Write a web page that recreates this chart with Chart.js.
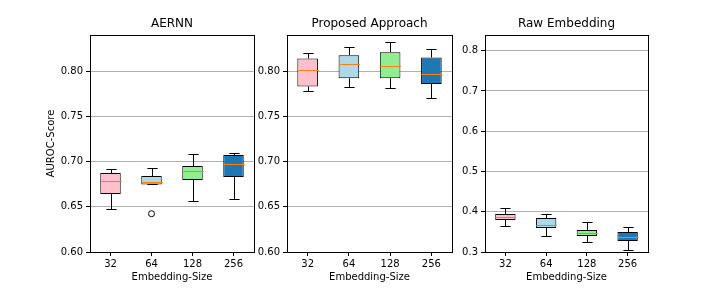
<!DOCTYPE html>
<html>
<head>
<meta charset="utf-8">
<script src="https://cdn.jsdelivr.net/npm/chart.js@4.4.1/dist/chart.umd.min.js"></script>
<style>
  body { margin: 0; background: #fff; }
  #wrap { position: relative; width: 720px; height: 288px; overflow: hidden; }
  canvas { position: absolute; top: 0; }
</style>
</head>
<body>
<div id="wrap">
  <canvas id="c1" width="222" height="288" style="left:40px"></canvas>
  <canvas id="c2" width="218" height="288" style="left:242px"></canvas>
  <canvas id="c3" width="216" height="288" style="left:440px"></canvas>
</div>
<script>
const sizes = ['32', '64', '128', '256'];
const boxColors = ['#ffc0cb', '#add8e6', '#90ee90', '#1f77b4'];

// AERNN
const aernnLow = [0.6476, 0.6749, 0.6565, 0.6587];
const aernnQ1 = [0.6642, 0.6749, 0.6797, 0.6830];
const aernnMed = [0.6786, 0.6775, 0.6897, 0.6974];
const aernnQ3 = [0.6875, 0.6841, 0.6952, 0.7074];
const aernnHigh = [0.6920, 0.6930, 0.7081, 0.7096];
const aernnOutliers = [null, 0.6424, null, null];

// Proposed Approach
const propLow = [0.7782, 0.7827, 0.7815, 0.7705];
const propQ1 = [0.7834, 0.7926, 0.7926, 0.7860];
const propMed = [0.8015, 0.8081, 0.8059, 0.7970];
const propQ3 = [0.8144, 0.8181, 0.8214, 0.8155];
const propHigh = [0.8200, 0.8269, 0.8325, 0.8244];

// Raw Embedding
const rawLow = [0.3646, 0.3389, 0.3248, 0.3050];
const rawQ1 = [0.3795, 0.3596, 0.3397, 0.3273];
const rawMed = [0.3869, 0.3662, 0.3472, 0.3373];
const rawQ3 = [0.3944, 0.3844, 0.3546, 0.3497];
const rawHigh = [0.4084, 0.3944, 0.3745, 0.3621];

const font = 'DejaVu Sans';

// whiskers, caps, medians and the axes frame
const boxParts = {
  id: 'boxParts',
  afterDatasetsDraw(chart, args, opts) {
    const { ctx, chartArea: a, scales: { x, y } } = chart;
    const meta = chart.getDatasetMeta(0);
    const px = v => Math.round(v) + 0.5;
    ctx.save();
    ctx.lineWidth = 1;
    opts.low.forEach((lo, i) => {
      const bar = meta.data[i];
      const half = bar.width / 2;
      const cx = px(x.getPixelForValue(i));
      const yLo = px(y.getPixelForValue(lo));
      const yHi = px(y.getPixelForValue(opts.high[i]));
      const yQ1 = y.getPixelForValue(opts.q1[i]);
      const yQ3 = y.getPixelForValue(opts.q3[i]);
      const yMed = px(y.getPixelForValue(opts.med[i]));
      ctx.strokeStyle = '#000';
      ctx.beginPath();
      ctx.moveTo(cx, yQ1); ctx.lineTo(cx, yLo);
      ctx.moveTo(cx, yQ3); ctx.lineTo(cx, yHi);
      ctx.moveTo(cx - half / 2, yLo); ctx.lineTo(cx + half / 2, yLo);
      ctx.moveTo(cx - half / 2, yHi); ctx.lineTo(cx + half / 2, yHi);
      ctx.stroke();
      ctx.strokeStyle = '#ff7f0e';
      ctx.beginPath();
      ctx.moveTo(cx - half, yMed); ctx.lineTo(cx + half, yMed);
      ctx.stroke();
    });
    ctx.strokeStyle = '#000';
    ctx.strokeRect(px(a.left), px(a.top), Math.round(a.right - a.left), Math.round(a.bottom - a.top));
    ctx.restore();
  }
};

function makeChart(id, title, low, q1, med, q3, high, outliers, yMin, yMax, step, digits, yWidth, yTitle) {
  const datasets = [{
    type: 'bar',
    data: q1.map((v, i) => [v, q3[i]]),
    backgroundColor: boxColors,
    borderColor: '#000',
    borderWidth: 1,
    borderSkipped: false,
    barPercentage: 0.5,
    categoryPercentage: 1.0
  }];
  if (outliers) {
    datasets.push({
      type: 'line',
      data: outliers,
      showLine: false,
      pointRadius: 3,
      pointBackgroundColor: 'rgba(0,0,0,0)',
      pointBorderColor: '#000',
      pointBorderWidth: 1
    });
  }
  return new Chart(document.getElementById(id), {
    type: 'bar',
    data: { labels: sizes, datasets },
    options: {
      responsive: false,
      animation: false,
      layout: { padding: { right: 8 } },
      plugins: {
        legend: { display: false },
        tooltip: { enabled: false },
        title: {
          display: true, text: title, color: '#000', fullSize: false,
          font: { family: font, size: 12, weight: 'normal' },
          padding: { top: 17, bottom: 3.6 }
        },
        boxParts: { low, q1, med, q3, high }
      },
      scales: {
        x: {
          offset: true,
          grid: { display: true, drawOnChartArea: false, offset: false, tickColor: '#000', tickLength: 4 },
          border: { display: false },
          ticks: { color: '#000', font: { family: font, size: 10 }, padding: 2 },
          title: {
            display: true, text: 'Embedding-Size', color: '#000',
            font: { family: font, size: 10 }, padding: { top: 0, bottom: 5 }
          },
          afterFit: s => { s.height = 36; }
        },
        y: {
          min: yMin, max: yMax,
          grid: { color: '#b0b0b0', lineWidth: 1, tickColor: '#000', tickLength: 4 },
          border: { display: false },
          ticks: {
            stepSize: step, includeBounds: false, color: '#000', padding: 3,
            font: { family: font, size: 10 },
            callback: v => v.toFixed(digits)
          },
          title: {
            display: !!yTitle, text: yTitle || '', color: '#000',
            font: { family: font, size: 10 }, padding: { top: 5, bottom: 0 }
          },
          afterFit: s => { s.width = yWidth; }
        }
      }
    },
    plugins: [boxParts]
  });
}

makeChart('c1', 'AERNN', aernnLow, aernnQ1, aernnMed, aernnQ3, aernnHigh, aernnOutliers, 0.6, 0.8404, 0.05, 2, 50, 'AUROC-Score');
makeChart('c2', 'Proposed Approach', propLow, propQ1, propMed, propQ3, propHigh, null, 0.6, 0.8404, 0.05, 2, 45, null);
makeChart('c3', 'Raw Embedding', rawLow, rawQ1, rawMed, rawQ3, rawHigh, null, 0.3, 0.839, 0.1, 1, 45, null);
</script>
</body>
</html>
